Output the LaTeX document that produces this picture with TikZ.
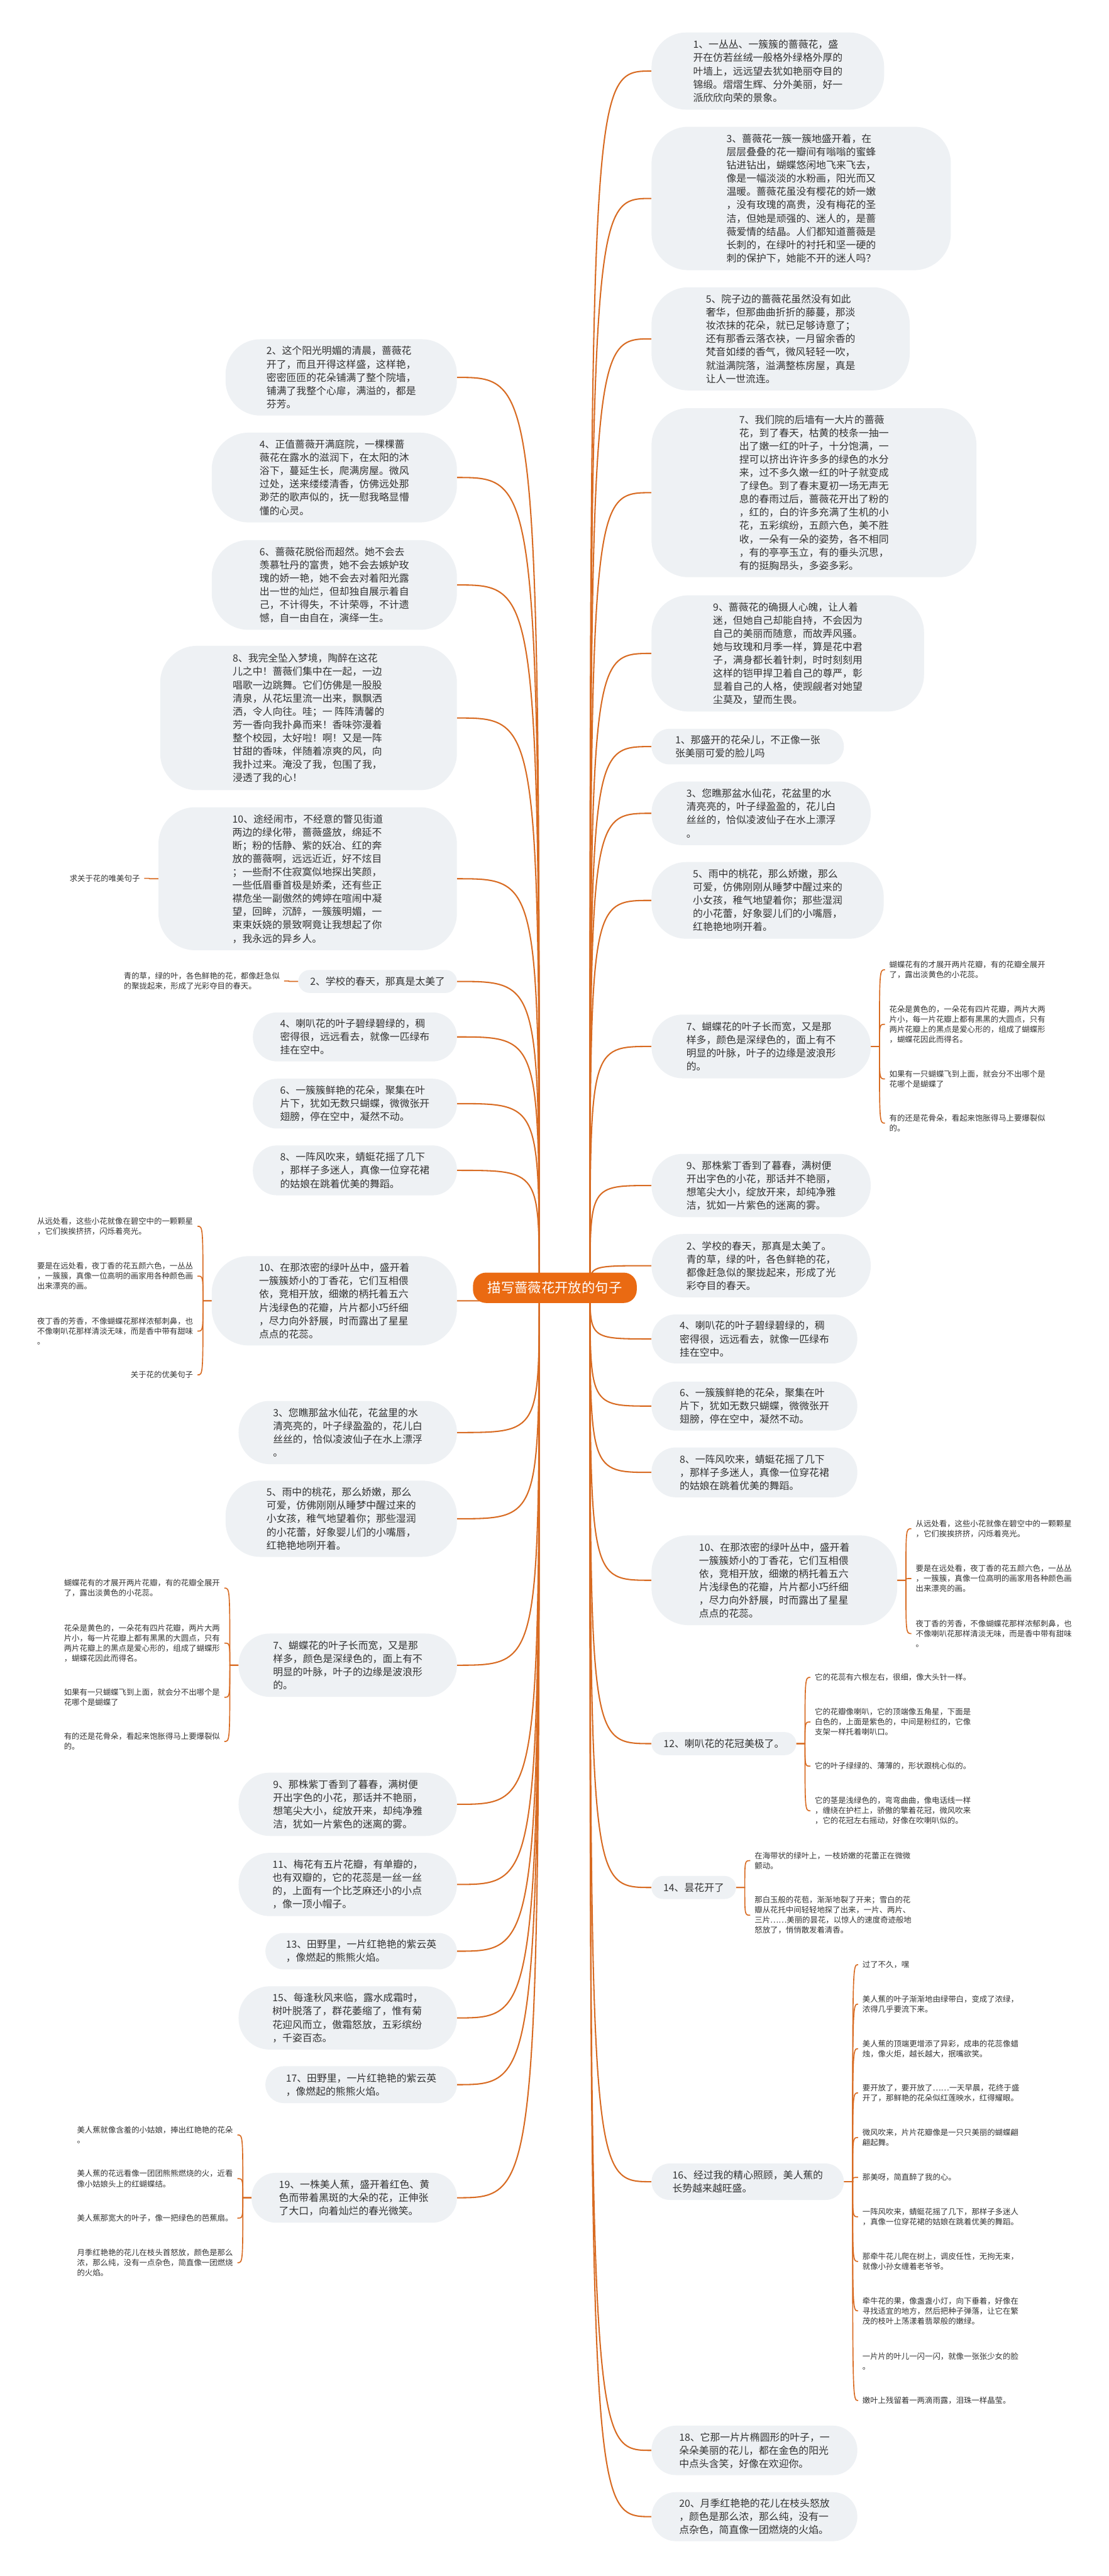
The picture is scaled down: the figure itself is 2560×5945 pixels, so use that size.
\documentclass[tikz,border=0pt]{standalone}
\usepackage{fontspec}
\newfontfamily\cjk{Noto Sans CJK SC}
\usepackage{tikz}
\definecolor{rootorange}{HTML}{EA6A12}
\definecolor{linkorange}{HTML}{D86B22}
\definecolor{bubblegray}{HTML}{EEF1F4}
\definecolor{inkgray}{HTML}{333333}
\pgfdeclarelayer{paper}
\pgfdeclarelayer{links}
\pgfsetlayers{paper,links,main}

\begin{document}
\begin{tikzpicture}[x=1pt, y=-1pt,
  font=\cjk,
  trunk/.style={draw=linkorange, line width=3pt},
  twig/.style={draw=linkorange, line width=2.4pt},
  rootbox/.style={fill=rootorange, text=white, rounded corners=30pt, minimum width=378pt, minimum height=70pt, inner sep=0pt, font=\cjk\fontsize{31}{36}\selectfont},
  sent/.style={fill=bubblegray, text=inkgray, rounded corners=#1pt, align=left, inner sep=0pt, font=\cjk\fontsize{23}{30.6}\selectfont},
  sentr/.style={sent=#1, anchor=west},
  sentl/.style={sent=#1, anchor=east},
  leafnote/.style={text=inkgray, align=left, inner xsep=10pt, inner ysep=2pt, font=\cjk\fontsize{18}{23.3}\selectfont},
  leafr/.style={leafnote, anchor=west},
  leafl/.style={leafnote, anchor=east}
]
\begin{pgfonlayer}{paper}
\fill[white] (0,0) rectangle (2560,5945);
\end{pgfonlayer}
\useasboundingbox (0,0) rectangle (2560,5945);
% ================= root =================
\node[rootbox] (root) at (1281,2972) {描写蔷薇花开放的句子};
\coordinate (rootr) at (1362,2972);
\coordinate (rootl) at (1245,2972);
% ================= right branch =================
\node[sentr=80, minimum width=537pt, minimum height=178pt] (r1) at (1504,164) {1、一丛丛、一簇簇的蔷薇花，盛\\开在仿若丝绒一般格外绿格外厚的\\叶墙上，远远望去犹如艳丽夺目的\\锦缎。熠熠生辉、分外美丽，好一\\派欣欣向荣的景象。};
\node[sentr=85, minimum width=691pt, minimum height=331pt] (r3) at (1504,458) {3、蔷薇花一簇一簇地盛开着，在\\层层叠叠的花一瓣间有嗡嗡的蜜蜂\\钻进钻出，蝴蝶悠闲地飞来飞去，\\像是一幅淡淡的水粉画，阳光而又\\温暖。蔷薇花虽没有樱花的娇一嫩\\，没有玫瑰的高贵，没有梅花的圣\\洁，但她是顽强的、迷人的，是蔷\\薇爱情的结晶。人们都知道蔷薇是\\长刺的，在绿叶的衬托和坚一硬的\\刺的保护下，她能不开的迷人吗？};
\node[sentr=85, minimum width=596pt, minimum height=238pt] (r5) at (1504,782) {5、院子边的蔷薇花虽然没有如此\\奢华，但那曲曲折折的藤蔓，那淡\\妆浓抹的花朵，就已足够诗意了；\\还有那香云落衣袂，一月留余香的\\梵音如缕的香气，微风轻轻一吹，\\就溢满院落，溢满整栋房屋，真是\\让人一世流连。};
\node[sentr=85, minimum width=750pt, minimum height=390pt] (r7) at (1504,1137) {7、我们院的后墙有一大片的蔷薇\\花，到了春天，枯黄的枝条一抽一\\出了嫩一红的叶子，十分饱满，一\\捏可以挤出许许多多的绿色的水分\\来，过不多久嫩一红的叶子就变成\\了绿色。到了春末夏初一场无声无\\息的春雨过后，蔷薇花开出了粉的\\，红的，白的许多充满了生机的小\\花，五彩缤纷，五颜六色，美不胜\\收，一朵有一朵的姿势，各不相同\\，有的亭亭玉立，有的垂头沉思，\\有的挺胸昂头，多姿多彩。};
\node[sentr=85, minimum width=629pt, minimum height=268pt] (r9) at (1504,1508) {9、蔷薇花的确摄人心魄，让人着\\迷，但她自己却能自持，不会因为\\自己的美丽而随意，而故弄风骚。\\她与玫瑰和月季一样，算是花中君\\子，满身都长着针刺，时时刻刻用\\这样的铠甲捍卫着自己的尊严，彰\\显着自己的人格，使觊觎者对她望\\尘莫及，望而生畏。};
\node[sentr=41, minimum width=444pt, minimum height=82pt] (s1) at (1504,1723) {1、那盛开的花朵儿，不正像一张\\张美丽可爱的脸儿吗};
\node[sentr=72, minimum width=506pt, minimum height=147pt] (s3) at (1504,1877) {3、您瞧那盆水仙花，花盆里的水\\清亮亮的，叶子绿盈盈的，花儿白\\丝丝的，恰似凌波仙子在水上漂浮\\。};
\node[sentr=80, minimum width=536pt, minimum height=177pt] (s5) at (1504,2078) {5、雨中的桃花，那么娇嫩，那么\\可爱，仿佛刚刚从睡梦中醒过来的\\小女孩，稚气地望着你；那些湿润\\的小花蕾，好象婴儿们的小嘴唇，\\红艳艳地咧开着。};
\node[sentr=72, minimum width=506pt, minimum height=147pt] (s7) at (1504,2415) {7、蝴蝶花的叶子长而宽，又是那\\样多，颜色是深绿色的，面上有不\\明显的叶脉，叶子的边缘是波浪形\\的。};
\node[sentr=72, minimum width=506pt, minimum height=146pt] (s9) at (1504,2736) {9、那株紫丁香到了暮春，满树便\\开出字色的小花，那话并不艳丽，\\想笔尖大小，绽放开来，却纯净雅\\洁，犹如一片紫色的迷离的雾。};
\node[sentr=72, minimum width=506pt, minimum height=146pt] (s2) at (1504,2921) {2、学校的春天，那真是太美了。\\青的草，绿的叶，各色鲜艳的花，\\都像赶急似的聚拢起来，形成了光\\彩夺目的春天。};
\node[sentr=56, minimum width=475pt, minimum height=113pt] (s4) at (1504,3090) {4、喇叭花的叶子碧绿碧绿的，稠\\密得很，远远看去，就像一匹绿布\\挂在空中。};
\node[sentr=56, minimum width=475pt, minimum height=113pt] (s6) at (1504,3245) {6、一簇簇鲜艳的花朵，聚集在叶\\片下，犹如无数只蝴蝶，微微张开\\翅膀，停在空中，凝然不动。};
\node[sentr=56, minimum width=475pt, minimum height=115pt] (s8) at (1504,3398) {8、一阵风吹来，蜻蜓花摇了几下\\，那样子多迷人，真像一位穿花裙\\的姑娘在跳着优美的舞蹈。};
\node[sentr=85, minimum width=567pt, minimum height=207pt] (s10) at (1504,3647) {10、在那浓密的绿叶丛中，盛开着\\一簇簇娇小的丁香花，它们互相偎\\依，竞相开放，细嫩的柄托着五六\\片浅绿色的花瓣，片片都小巧纤细\\，尽力向外舒展，时而露出了星星\\点点的花蕊。};
\node[sentr=26, minimum width=334pt, minimum height=53pt] (s12) at (1504,4024) {12、喇叭花的花冠美极了。};
\node[sentr=26, minimum width=195pt, minimum height=53pt] (s14) at (1504,4356) {14、昙花开了};
\node[sentr=42, minimum width=444pt, minimum height=84pt] (s16) at (1504,5035) {16、经过我的精心照顾，美人蕉的\\长势越来越旺盛。};
\node[sentr=56, minimum width=475pt, minimum height=114pt] (s18) at (1504,5655) {18、它那一片片椭圆形的叶子，一\\朵朵美丽的花儿，都在金色的阳光\\中点头含笑，好像在欢迎你。};
\node[sentr=56, minimum width=475pt, minimum height=113pt] (s20) at (1504,5808) {20、月季红艳艳的花儿在枝头怒放\\，颜色是那么浓，那么纯，没有一\\点杂色，简直像一团燃烧的火焰。};
% ================= left branch =================
\node[sentl=80, minimum width=534pt, minimum height=176pt] (l2) at (1055,871) {2、这个阳光明媚的清晨，蔷薇花\\开了，而且开得这样盛，这样艳，\\密密匝匝的花朵铺满了整个院墙，\\铺满了我整个心扉，满溢的，都是\\芬芳。};
\node[sentl=85, minimum width=566pt, minimum height=207pt] (l4) at (1055,1102) {4、正值蔷薇开满庭院，一棵棵蔷\\薇花在露水的滋润下，在太阳的沐\\浴下，蔓延生长，爬满房屋。微风\\过处，送来缕缕清香，仿佛远处那\\渺茫的歌声似的，抚一慰我略显懵\\懂的心灵。};
\node[sentl=85, minimum width=566pt, minimum height=207pt] (l6) at (1055,1350) {6、蔷薇花脱俗而超然。她不会去\\羡慕牡丹的富贵，她不会去嫉妒玫\\瑰的娇一艳，她不会去对着阳光露\\出一世的灿烂，但却独自展示着自\\己，不计得失，不计荣辱，不计遗\\憾，自一由自在，演绎一生。};
\node[sentl=85, minimum width=685pt, minimum height=333pt] (l8) at (1055,1657) {8、我完全坠入梦境，陶醉在这花\\儿之中！蔷薇们集中在一起，一边\\唱歌一边跳舞。它们仿佛是一股股\\清泉，从花坛里流一出来，飘飘洒\\洒，令人向往。哇；一 阵阵清馨的\\芳一香向我扑鼻而来！香味弥漫着\\整个校园，太好啦！啊！又是一阵\\甘甜的香味，伴随着凉爽的风，向\\我扑过来。淹没了我，包围了我，\\浸透了我的心！};
\node[sentl=85, minimum width=689pt, minimum height=330pt] (l10) at (1055,2028) {10、途经闹市，不经意的瞥见街道\\两边的绿化带，蔷薇盛放，绵延不\\断；粉的恬静、紫的妖冶、红的奔\\放的蔷薇啊，远远近近，好不炫目\\；一些耐不住寂寞似地探出笑颜，\\一些低眉垂首极是娇柔，还有些正\\襟危坐一副傲然的娉婷在喧闹中凝\\望，回眸，沉醉，一簇簇明媚，一\\束束妖娆的景致啊竟让我想起了你\\，我永远的异乡人。};
\node[sentl=26, minimum width=366pt, minimum height=53pt] (m2) at (1055,2265) {2、学校的春天，那真是太美了};
\node[sentl=56, minimum width=471pt, minimum height=113pt] (m4) at (1055,2393) {4、喇叭花的叶子碧绿碧绿的，稠\\密得很，远远看去，就像一匹绿布\\挂在空中。};
\node[sentl=56, minimum width=471pt, minimum height=115pt] (m6) at (1055,2547) {6、一簇簇鲜艳的花朵，聚集在叶\\片下，犹如无数只蝴蝶，微微张开\\翅膀，停在空中，凝然不动。};
\node[sentl=56, minimum width=471pt, minimum height=115pt] (m8) at (1055,2701) {8、一阵风吹来，蜻蜓花摇了几下\\，那样子多迷人，真像一位穿花裙\\的姑娘在跳着优美的舞蹈。};
\node[sentl=85, minimum width=566pt, minimum height=206pt] (m10) at (1055,3002) {10、在那浓密的绿叶丛中，盛开着\\一簇簇娇小的丁香花，它们互相偎\\依，竞相开放，细嫩的柄托着五六\\片浅绿色的花瓣，片片都小巧纤细\\，尽力向外舒展，时而露出了星星\\点点的花蕊。};
\node[sentl=72, minimum width=504pt, minimum height=146pt] (m3) at (1055,3306) {3、您瞧那盆水仙花，花盆里的水\\清亮亮的，叶子绿盈盈的，花儿白\\丝丝的，恰似凌波仙子在水上漂浮\\。};
\node[sentl=80, minimum width=534pt, minimum height=176pt] (m5) at (1055,3505) {5、雨中的桃花，那么娇嫩，那么\\可爱，仿佛刚刚从睡梦中醒过来的\\小女孩，稚气地望着你；那些湿润\\的小花蕾，好象婴儿们的小嘴唇，\\红艳艳地咧开着。};
\node[sentl=72, minimum width=504pt, minimum height=146pt] (m7) at (1055,3843) {7、蝴蝶花的叶子长而宽，又是那\\样多，颜色是深绿色的，面上有不\\明显的叶脉，叶子的边缘是波浪形\\的。};
\node[sentl=72, minimum width=504pt, minimum height=146pt] (m9) at (1055,4164) {9、那株紫丁香到了暮春，满树便\\开出字色的小花，那话并不艳丽，\\想笔尖大小，绽放开来，却纯净雅\\洁，犹如一片紫色的迷离的雾。};
\node[sentl=72, minimum width=504pt, minimum height=146pt] (m11) at (1055,4349) {11、梅花有五片花瓣，有单瓣的，\\也有双瓣的，它的花蕊是一丝一丝\\的，上面有一个比芝麻还小的小点\\，像一顶小帽子。};
\node[sentl=42, minimum width=442pt, minimum height=84pt] (m13) at (1055,4503) {13、田野里，一片红艳艳的紫云英\\，像燃起的熊熊火焰。};
\node[sentl=72, minimum width=504pt, minimum height=146pt] (m15) at (1055,4657) {15、每逢秋风来临，露水成霜时，\\树叶脱落了，群花萎缩了，惟有菊\\花迎风而立，傲霜怒放，五彩缤纷\\，千姿百态。};
\node[sentl=42, minimum width=442pt, minimum height=85pt] (m17) at (1055,4811) {17、田野里，一片红艳艳的紫云英\\，像燃起的熊熊火焰。};
\node[sentl=56, minimum width=474pt, minimum height=115pt] (m19) at (1055,5072) {19、一株美人蕉，盛开着红色、黄\\色而带着黑斑的大朵的花，正伸张\\了大口，向着灿烂的春光微笑。};
% ================= right leaves =================
\node[leafr] (s7a) at (2043,2238) {蝴蝶花有的才展开两片花瓣，有的花瓣全展开\\了，露出淡黄色的小花蕊。};
\node[leafr] (s7b) at (2043,2364) {花朵是黄色的，一朵花有四片花瓣，两片大两\\片小，每一片花瓣上都有黑黑的大圆点，只有\\两片花瓣上的黑点是爱心形的，组成了蝴蝶形\\，蝴蝶花因此而得名。};
\node[leafr] (s7c) at (2043,2490) {如果有一只蝴蝶飞到上面，就会分不出哪个是\\花哪个是蝴蝶了};
\node[leafr] (s7d) at (2043,2592) {有的还是花骨朵，看起来饱胀得马上要爆裂似\\的。};
\node[leafr] (s10a) at (2104,3528) {从远处看，这些小花就像在碧空中的一颗颗星\\，它们挨挨挤挤，闪烁着亮光。};
\node[leafr] (s10b) at (2104,3643) {要是在远处看，夜丁香的花五颜六色，一丛丛\\，一簇簇，真像一位高明的画家用各种颜色画\\出来漂亮的画。};
\node[leafr] (s10c) at (2104,3770) {夜丁香的芳香，不像蝴蝶花那样浓郁刺鼻，也\\不像喇叭花那样清淡无味，而是香中带有甜味\\。};
\node[leafr] (s12a) at (1871,3871) {它的花蕊有六根左右，很细，像大头针一样。};
\node[leafr] (s12b) at (1871,3974) {它的花瓣像喇叭，它的顶端像五角星，下面是\\白色的，上面是紫色的，中间是粉红的，它像\\支架一样托着喇叭口。};
\node[leafr] (s12c) at (1871,4076) {它的叶子绿绿的、薄薄的，形状跟桃心似的。};
\node[leafr] (s12d) at (1871,4179) {它的茎是浅绿色的，弯弯曲曲，像电话线一样\\，缠绕在护栏上，骄傲的擎着花冠，微风吹来\\，它的花冠左右摇动，好像在吹喇叭似的。};
\node[leafr] (s14a) at (1732,4294) {在海带状的绿叶上，一枝娇嫩的花蕾正在微微\\颤动。};
\node[leafr] (s14b) at (1732,4420) {那白玉般的花苞，渐渐地裂了开来；雪白的花\\瓣从花托中间轻轻地探了出来，一片、两片、\\三片……美丽的昙花，以惊人的速度奇迹般地\\怒放了，悄悄散发着清香。};
\node[leafr] (s16a) at (1981,4534) {过了不久，嘿};
\node[leafr] (s16b) at (1981,4625) {美人蕉的叶子渐渐地由绿带白，变成了浓绿，\\浓得几乎要流下来。};
\node[leafr] (s16c) at (1981,4728) {美人蕉的顶端更增添了异彩，成串的花蕊像蜡\\烛，像火炬，越长越大，抿嘴欲笑。};
\node[leafr] (s16d) at (1981,4830) {要开放了，要开放了……一天早晨，花终于盛\\开了，那鲜艳的花朵似红莲映水，红得耀眼。};
\node[leafr] (s16e) at (1981,4933) {微风吹来，片片花瓣像是一只只美丽的蝴蝶翩\\翩起舞。};
\node[leafr] (s16f) at (1981,5025) {那美呀，简直醉了我的心。};
\node[leafr] (s16g) at (1981,5116) {一阵风吹来，蜻蜓花摇了几下，那样子多迷人\\，真像一位穿花裙的姑娘在跳着优美的舞蹈。};
\node[leafr] (s16h) at (1981,5219) {那牵牛花儿爬在树上，调皮任性，无拘无束，\\就像小孙女缠着老爷爷。};
\node[leafr] (s16i) at (1981,5333) {牵牛花的果，像盏盏小灯，向下垂着，好像在\\寻找适宜的地方，然后把种子弹落，让它在繁\\茂的枝叶上荡漾着翡翠般的嫩绿。};
\node[leafr] (s16j) at (1981,5450) {一片片的叶儿一闪一闪，就像一张张少女的脸\\。};
\node[leafr] (s16k) at (1981,5540) {嫩叶上残留着一两滴雨露，泪珠一样晶莹。};
% ================= left leaves =================
\node[leafl] (l10a) at (333,2027) {求关于花的唯美句子};
\node[leafl] (m2a) at (656,2264) {青的草，绿的叶，各色鲜艳的花，都像赶急似\\的聚拢起来，形成了光彩夺目的春天。};
\node[leafl] (m10a) at (456,2830) {从远处看，这些小花就像在碧空中的一颗颗星\\，它们挨挨挤挤，闪烁着亮光。};
\node[leafl] (m10b) at (456,2945) {要是在远处看，夜丁香的花五颜六色，一丛丛\\，一簇簇，真像一位高明的画家用各种颜色画\\出来漂亮的画。};
\node[leafl] (m10c) at (456,3072) {夜丁香的芳香，不像蝴蝶花那样浓郁刺鼻，也\\不像喇叭花那样清淡无味，而是香中带有甜味\\。};
\node[leafl] (m10d) at (456,3173) {关于花的优美句子};
\node[leafl] (m7a) at (518,3665) {蝴蝶花有的才展开两片花瓣，有的花瓣全展开\\了，露出淡黄色的小花蕊。};
\node[leafl] (m7b) at (518,3792) {花朵是黄色的，一朵花有四片花瓣，两片大两\\片小，每一片花瓣上都有黑黑的大圆点，只有\\两片花瓣上的黑点是爱心形的，组成了蝴蝶形\\，蝴蝶花因此而得名。};
\node[leafl] (m7c) at (518,3917) {如果有一只蝴蝶飞到上面，就会分不出哪个是\\花哪个是蝴蝶了};
\node[leafl] (m7d) at (518,4019) {有的还是花骨朵，看起来饱胀得马上要爆裂似\\的。};
\node[leafl] (m19a) at (548,4927) {美人蕉就像含羞的小姑娘，捧出红艳艳的花朵\\。};
\node[leafl] (m19b) at (548,5028) {美人蕉的花远看像一团团熊熊燃烧的火，近看\\像小姑娘头上的红蝴蝶结。};
\node[leafl] (m19c) at (548,5119) {美人蕉那宽大的叶子，像一把绿色的芭蕉扇。};
\node[leafl] (m19d) at (548,5222) {月季红艳艳的花儿在枝头首怒放，颜色是那么\\浓，那么纯，没有一点杂色，简直像一团燃烧\\的火焰。};
% ================= joints for the leaf braces =================
\coordinate (s7j) at ([xshift=20pt]s7.east);
\coordinate (s10j) at ([xshift=20pt]s10.east);
\coordinate (s12j) at ([xshift=20pt]s12.east);
\coordinate (s14j) at ([xshift=20pt]s14.east);
\coordinate (s16j) at ([xshift=20pt]s16.east);
\coordinate (l10j) at ([xshift=-20pt]l10.west);
\coordinate (m2j) at ([xshift=-20pt]m2.west);
\coordinate (m10j) at ([xshift=-20pt]m10.west);
\coordinate (m7j) at ([xshift=-20pt]m7.west);
\coordinate (m19j) at ([xshift=-20pt]m19.west);
\begin{pgfonlayer}{links}
% ================= trunk curves, right =================
\draw[trunk] (rootr) .. controls (rootr |- r1.west) .. (r1.west);
\draw[trunk] (rootr) .. controls (rootr |- r3.west) .. (r3.west);
\draw[trunk] (rootr) .. controls (rootr |- r5.west) .. (r5.west);
\draw[trunk] (rootr) .. controls (rootr |- r7.west) .. (r7.west);
\draw[trunk] (rootr) .. controls (rootr |- r9.west) .. (r9.west);
\draw[trunk] (rootr) .. controls (rootr |- s1.west) .. (s1.west);
\draw[trunk] (rootr) .. controls (rootr |- s3.west) .. (s3.west);
\draw[trunk] (rootr) .. controls (rootr |- s5.west) .. (s5.west);
\draw[trunk] (rootr) .. controls (rootr |- s7.west) .. (s7.west);
\draw[trunk] (rootr) .. controls (rootr |- s9.west) .. (s9.west);
\draw[trunk] (rootr) .. controls (rootr |- s2.west) .. (s2.west);
\draw[trunk] (rootr) .. controls (rootr |- s4.west) .. (s4.west);
\draw[trunk] (rootr) .. controls (rootr |- s6.west) .. (s6.west);
\draw[trunk] (rootr) .. controls (rootr |- s8.west) .. (s8.west);
\draw[trunk] (rootr) .. controls (rootr |- s10.west) .. (s10.west);
\draw[trunk] (rootr) .. controls (rootr |- s12.west) .. (s12.west);
\draw[trunk] (rootr) .. controls (rootr |- s14.west) .. (s14.west);
\draw[trunk] (rootr) .. controls (rootr |- s16.west) .. (s16.west);
\draw[trunk] (rootr) .. controls (rootr |- s18.west) .. (s18.west);
\draw[trunk] (rootr) .. controls (rootr |- s20.west) .. (s20.west);
% ================= trunk curves, left =================
\draw[trunk] (rootl) .. controls (rootl |- l2.east) .. (l2.east);
\draw[trunk] (rootl) .. controls (rootl |- l4.east) .. (l4.east);
\draw[trunk] (rootl) .. controls (rootl |- l6.east) .. (l6.east);
\draw[trunk] (rootl) .. controls (rootl |- l8.east) .. (l8.east);
\draw[trunk] (rootl) .. controls (rootl |- l10.east) .. (l10.east);
\draw[trunk] (rootl) .. controls (rootl |- m2.east) .. (m2.east);
\draw[trunk] (rootl) .. controls (rootl |- m4.east) .. (m4.east);
\draw[trunk] (rootl) .. controls (rootl |- m6.east) .. (m6.east);
\draw[trunk] (rootl) .. controls (rootl |- m8.east) .. (m8.east);
\draw[trunk] (rootl) .. controls (rootl |- m10.east) .. (m10.east);
\draw[trunk] (rootl) .. controls (rootl |- m3.east) .. (m3.east);
\draw[trunk] (rootl) .. controls (rootl |- m5.east) .. (m5.east);
\draw[trunk] (rootl) .. controls (rootl |- m7.east) .. (m7.east);
\draw[trunk] (rootl) .. controls (rootl |- m9.east) .. (m9.east);
\draw[trunk] (rootl) .. controls (rootl |- m11.east) .. (m11.east);
\draw[trunk] (rootl) .. controls (rootl |- m13.east) .. (m13.east);
\draw[trunk] (rootl) .. controls (rootl |- m15.east) .. (m15.east);
\draw[trunk] (rootl) .. controls (rootl |- m17.east) .. (m17.east);
\draw[trunk] (rootl) .. controls (rootl |- m19.east) .. (m19.east);
% ================= leaf braces, right =================
\draw[twig] (s7.east) -- (s7j) .. controls (s7j |- s7a.west) .. (s7a.west);
\draw[twig] (s7.east) -- (s7j) .. controls (s7j |- s7b.west) .. (s7b.west);
\draw[twig] (s7.east) -- (s7j) .. controls (s7j |- s7c.west) .. (s7c.west);
\draw[twig] (s7.east) -- (s7j) .. controls (s7j |- s7d.west) .. (s7d.west);
\draw[twig] (s10.east) -- (s10j) .. controls (s10j |- s10a.west) .. (s10a.west);
\draw[twig] (s10.east) -- (s10j) .. controls (s10j |- s10b.west) .. (s10b.west);
\draw[twig] (s10.east) -- (s10j) .. controls (s10j |- s10c.west) .. (s10c.west);
\draw[twig] (s12.east) -- (s12j) .. controls (s12j |- s12a.west) .. (s12a.west);
\draw[twig] (s12.east) -- (s12j) .. controls (s12j |- s12b.west) .. (s12b.west);
\draw[twig] (s12.east) -- (s12j) .. controls (s12j |- s12c.west) .. (s12c.west);
\draw[twig] (s12.east) -- (s12j) .. controls (s12j |- s12d.west) .. (s12d.west);
\draw[twig] (s14.east) -- (s14j) .. controls (s14j |- s14a.west) .. (s14a.west);
\draw[twig] (s14.east) -- (s14j) .. controls (s14j |- s14b.west) .. (s14b.west);
\draw[twig] (s16.east) -- (s16j) .. controls (s16j |- s16a.west) .. (s16a.west);
\draw[twig] (s16.east) -- (s16j) .. controls (s16j |- s16b.west) .. (s16b.west);
\draw[twig] (s16.east) -- (s16j) .. controls (s16j |- s16c.west) .. (s16c.west);
\draw[twig] (s16.east) -- (s16j) .. controls (s16j |- s16d.west) .. (s16d.west);
\draw[twig] (s16.east) -- (s16j) .. controls (s16j |- s16e.west) .. (s16e.west);
\draw[twig] (s16.east) -- (s16j) .. controls (s16j |- s16f.west) .. (s16f.west);
\draw[twig] (s16.east) -- (s16j) .. controls (s16j |- s16g.west) .. (s16g.west);
\draw[twig] (s16.east) -- (s16j) .. controls (s16j |- s16h.west) .. (s16h.west);
\draw[twig] (s16.east) -- (s16j) .. controls (s16j |- s16i.west) .. (s16i.west);
\draw[twig] (s16.east) -- (s16j) .. controls (s16j |- s16j.west) .. (s16j.west);
\draw[twig] (s16.east) -- (s16j) .. controls (s16j |- s16k.west) .. (s16k.west);
% ================= leaf braces, left =================
\draw[twig] (l10.west) -- (l10j) .. controls (l10j |- l10a.east) .. (l10a.east);
\draw[twig] (m2.west) -- (m2j) .. controls (m2j |- m2a.east) .. (m2a.east);
\draw[twig] (m10.west) -- (m10j) .. controls (m10j |- m10a.east) .. (m10a.east);
\draw[twig] (m10.west) -- (m10j) .. controls (m10j |- m10b.east) .. (m10b.east);
\draw[twig] (m10.west) -- (m10j) .. controls (m10j |- m10c.east) .. (m10c.east);
\draw[twig] (m10.west) -- (m10j) .. controls (m10j |- m10d.east) .. (m10d.east);
\draw[twig] (m7.west) -- (m7j) .. controls (m7j |- m7a.east) .. (m7a.east);
\draw[twig] (m7.west) -- (m7j) .. controls (m7j |- m7b.east) .. (m7b.east);
\draw[twig] (m7.west) -- (m7j) .. controls (m7j |- m7c.east) .. (m7c.east);
\draw[twig] (m7.west) -- (m7j) .. controls (m7j |- m7d.east) .. (m7d.east);
\draw[twig] (m19.west) -- (m19j) .. controls (m19j |- m19a.east) .. (m19a.east);
\draw[twig] (m19.west) -- (m19j) .. controls (m19j |- m19b.east) .. (m19b.east);
\draw[twig] (m19.west) -- (m19j) .. controls (m19j |- m19c.east) .. (m19c.east);
\draw[twig] (m19.west) -- (m19j) .. controls (m19j |- m19d.east) .. (m19d.east);
\end{pgfonlayer}
\end{tikzpicture}
\end{document}
